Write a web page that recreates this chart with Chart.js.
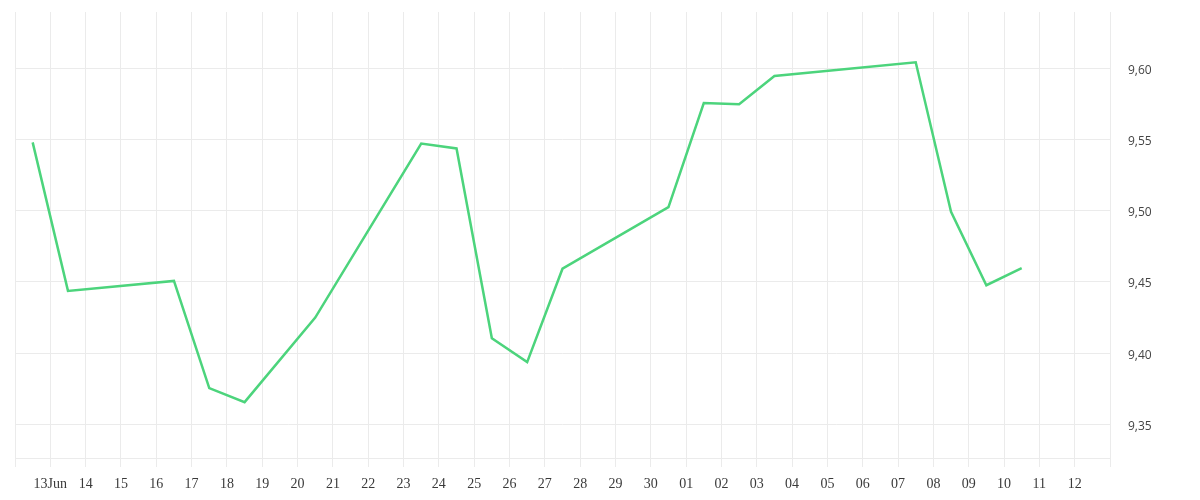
<!DOCTYPE html>
<html>
<head>
<meta charset="utf-8">
<script src="https://cdn.jsdelivr.net/npm/chart.js@4"></script>
<style>
  html, body { margin: 0; padding: 0; background: #fff; }
  #wrap { width: 1200px; height: 500px; }
</style>
</head>
<body>
<div id="wrap"><canvas id="c" width="1200" height="500"></canvas></div>
<script>
// Data (dates at midday)
const startDate = '2020-06-12T00:00:00Z';
const dates = [
  '2020-06-12T12:00:00Z','2020-06-13T12:00:00Z','2020-06-16T12:00:00Z','2020-06-17T12:00:00Z',
  '2020-06-18T12:00:00Z','2020-06-20T12:00:00Z','2020-06-23T12:00:00Z','2020-06-24T12:00:00Z',
  '2020-06-25T12:00:00Z','2020-06-26T12:00:00Z','2020-06-27T12:00:00Z','2020-06-30T12:00:00Z',
  '2020-07-01T12:00:00Z','2020-07-02T12:00:00Z','2020-07-03T12:00:00Z','2020-07-07T12:00:00Z',
  '2020-07-08T12:00:00Z','2020-07-09T12:00:00Z','2020-07-10T12:00:00Z'
];
const values = [
  9.548, 9.4437, 9.4507, 9.3755, 9.3656, 9.425, 9.5472, 9.5437,
  9.4105, 9.3937, 9.4593, 9.5025, 9.5756, 9.5747, 9.5946, 9.6042,
  9.4993, 9.4477, 9.4597
];
// x tick labels, one per day from 12 Jun to 13 Jul
const xTickLabels = ['', '13Jun', '14', '15', '16', '17', '18', '19', '20', '21', '22', '23', '24', '25', '26',
  '27', '28', '29', '30', '01', '02', '03', '04', '05', '06', '07', '08', '09', '10', '11', '12', ''];
const yTicks = [9.35, 9.40, 9.45, 9.50, 9.55, 9.60];
const yMin = 9.3264, yMax = 9.6395;

const DAY = 86400000;
const t0 = Date.parse(startDate);
const points = dates.map((d, i) => ({ x: (Date.parse(d) - t0) / DAY, y: values[i] }));

const gridColor = '#ebebeb';

new Chart(document.getElementById('c'), {
  type: 'line',
  data: {
    datasets: [{
      data: points,
      borderColor: '#4cd47c',
      borderWidth: 2.5,
      pointRadius: 0,
      pointHoverRadius: 0,
      tension: 0,
      fill: false
    }]
  },
  options: {
    responsive: false,
    animation: false,
    devicePixelRatio: 1,
    layout: { padding: { top: 12, left: 15, right: 0, bottom: 0 } },
    plugins: { legend: { display: false }, tooltip: { enabled: false } },
    scales: {
      x: {
        type: 'linear',
        min: 0,
        max: xTickLabels.length - 1,
        afterBuildTicks: (scale) => {
          scale.ticks = xTickLabels.map((_, i) => ({ value: i }));
        },
        afterFit: (scale) => { scale.height = 42; scale.paddingLeft = 0; scale.paddingRight = 0; },
        grid: { color: gridColor, lineWidth: 1, drawTicks: true, tickLength: 9 },
        border: { color: gridColor, width: 1 },
        ticks: {
          autoSkip: false,
          maxRotation: 0,
          padding: 9,
          color: '#3a3a3a',
          font: { family: '"Liberation Serif", serif', size: 14 },
          callback: (v) => xTickLabels[Math.round(v)]
        }
      },
      y: {
        position: 'right',
        min: yMin,
        max: yMax,
        afterBuildTicks: (scale) => {
          scale.ticks = yTicks.map(v => ({ value: v }));
        },
        afterFit: (scale) => { scale.width = 90; scale.paddingTop = 0; scale.paddingBottom = 0; },
        grid: { color: gridColor, lineWidth: 1, drawTicks: false },
        border: { color: gridColor, width: 1 },
        ticks: {
          padding: 18,
          labelOffset: 2,
          color: '#444',
          font: { family: '"Open Sans", sans-serif', size: 12 },
          callback: (v) => v.toFixed(2).replace('.', ',')
        }
      }
    }
  }
});
</script>
</body>
</html>
